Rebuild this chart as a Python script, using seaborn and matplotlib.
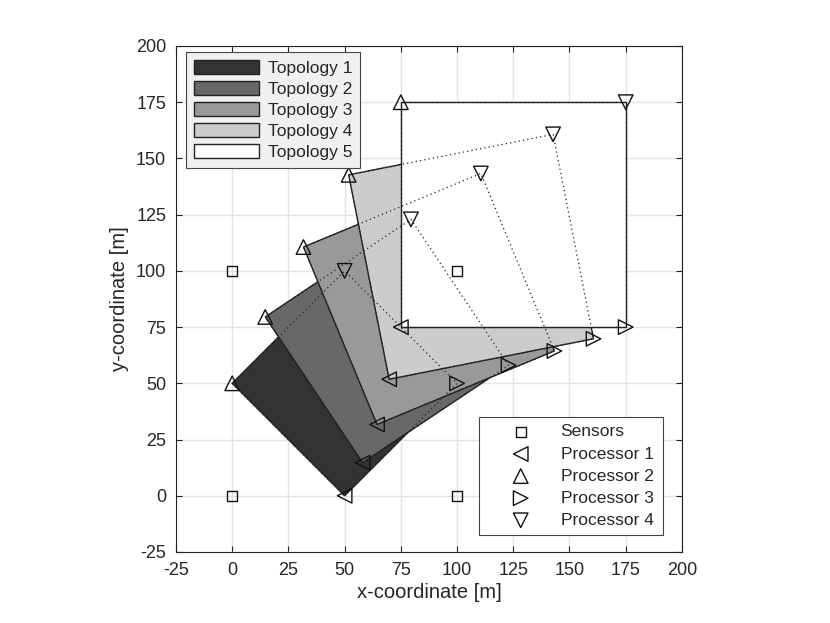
import matplotlib
matplotlib.use('Agg')
import matplotlib.pyplot as plt
import matplotlib.patches as mpatches
import seaborn as sns
import pandas as pd

# sensor positions
sensor_x = [0, 0, 100, 100]
sensor_y = [0, 100, 0, 100]

# processor positions per topology (topology 1..5)
proc1_x = [50.0, 58.0, 64.4, 69.8, 75.0]
proc1_y = [0.0, 14.7, 31.7, 51.8, 75.0]
proc2_x = [0.0, 14.7, 31.7, 51.8, 75.0]
proc2_y = [50.0, 79.5, 110.6, 142.7, 175.0]
proc3_x = [100.0, 122.9, 143.3, 160.7, 175.0]
proc3_y = [50.0, 58.0, 64.4, 69.8, 75.0]
proc4_x = [50.0, 79.5, 110.6, 142.7, 175.0]
proc4_y = [100.0, 122.9, 143.3, 160.7, 175.0]

topologies = ['Topology 1', 'Topology 2', 'Topology 3', 'Topology 4', 'Topology 5']
topo_colors = ['#333333', '#686868', '#999999', '#cccccc', '#ffffff']

sns.set_style('ticks')
plt.rcParams['font.family'] = ['Liberation Sans', 'DejaVu Sans']

fig = plt.figure(figsize=(8.3, 6.23), dpi=100)
ax = fig.add_axes([0.212, 0.114, 0.6096, 0.8122])

# filled topologies, drawn in order so later ones cover earlier ones
patch_handles = []
for i, name in enumerate(topologies):
    xs = [proc1_x[i], proc3_x[i], proc4_x[i], proc2_x[i]]
    ys = [proc1_y[i], proc3_y[i], proc4_y[i], proc2_y[i]]
    ax.fill(xs, ys, facecolor=topo_colors[i], edgecolor='#222222',
            linewidth=1.0, zorder=2 + i)
    patch_handles.append(mpatches.Patch(facecolor=topo_colors[i],
                                        edgecolor='#222222', label=name))

# dotted outlines on top, so hidden edges are still visible
for i in range(len(topologies)):
    xs = [proc1_x[i], proc3_x[i], proc4_x[i], proc2_x[i], proc1_x[i]]
    ys = [proc1_y[i], proc3_y[i], proc4_y[i], proc2_y[i], proc1_y[i]]
    ax.plot(xs, ys, linestyle=(0, (1, 2.5)), color='#222222',
            linewidth=0.9, zorder=10)

# markers
df_s = pd.DataFrame({'x': sensor_x, 'y': sensor_y})
sns.scatterplot(data=df_s, x='x', y='y', marker='s', s=50, facecolors='none',
                edgecolor='#111111', linewidth=1.0, label='Sensors',
                ax=ax, zorder=12)
procs = [(proc1_x, proc1_y, '<', 'Processor 1'),
         (proc2_x, proc2_y, '^', 'Processor 2'),
         (proc3_x, proc3_y, '>', 'Processor 3'),
         (proc4_x, proc4_y, 'v', 'Processor 4')]
for px, py, m, lab in procs:
    df_p = pd.DataFrame({'x': px, 'y': py})
    sns.scatterplot(data=df_p, x='x', y='y', marker=m, s=110,
                    facecolors='none', edgecolor='#111111', linewidth=1.0,
                    label=lab, ax=ax, zorder=12)

ax.set_xlim(-25, 200)
ax.set_ylim(-25, 200)
ticks = list(range(-25, 201, 25))
ax.set_xticks(ticks)
ax.set_yticks(ticks)
ax.set_xticklabels([str(t) for t in ticks], fontsize=13)
ax.set_yticklabels([str(t) for t in ticks], fontsize=13)
ax.tick_params(direction='in', top=True, right=True, length=4,
               width=0.8, color='#222222', pad=7)
ax.grid(True, color='#e3e3e3', linewidth=1.0)
ax.set_axisbelow(True)
for sp in ax.spines.values():
    sp.set_color('#222222')
    sp.set_linewidth(0.8)
ax.set_xlabel('x-coordinate [m]', fontsize=14.5, labelpad=3)
ax.set_ylabel('y-coordinate [m]', fontsize=14.5, labelpad=5)

# legends
handles, labels = ax.get_legend_handles_labels()
leg2 = ax.legend(handles, labels, loc='lower left',
                 bbox_to_anchor=(0.599, 0.034, 0.363, 0.227), mode='expand',
                 fontsize=12.5, frameon=True, fancybox=False,
                 edgecolor='#444444', facecolor='white', framealpha=1,
                 handlelength=4.0, handletextpad=0.3, labelspacing=0.4,
                 borderpad=0.4, scatterpoints=1, borderaxespad=0)
leg2.get_frame().set_linewidth(0.8)
leg2.set_zorder(20)
ax.add_artist(leg2)

leg1 = ax.legend(handles=patch_handles, loc='upper left',
                 bbox_to_anchor=(0.02, 0.988), fontsize=12.5, frameon=True,
                 fancybox=False, edgecolor='#444444', facecolor='#f0f0f0',
                 framealpha=1, handlelength=3.75, handleheight=0.9,
                 handletextpad=0.5, labelspacing=0.28, borderpad=0.45,
                 borderaxespad=0)
leg1.get_frame().set_linewidth(0.8)
leg1.set_zorder(20)

fig.savefig('out.png', dpi=100)
